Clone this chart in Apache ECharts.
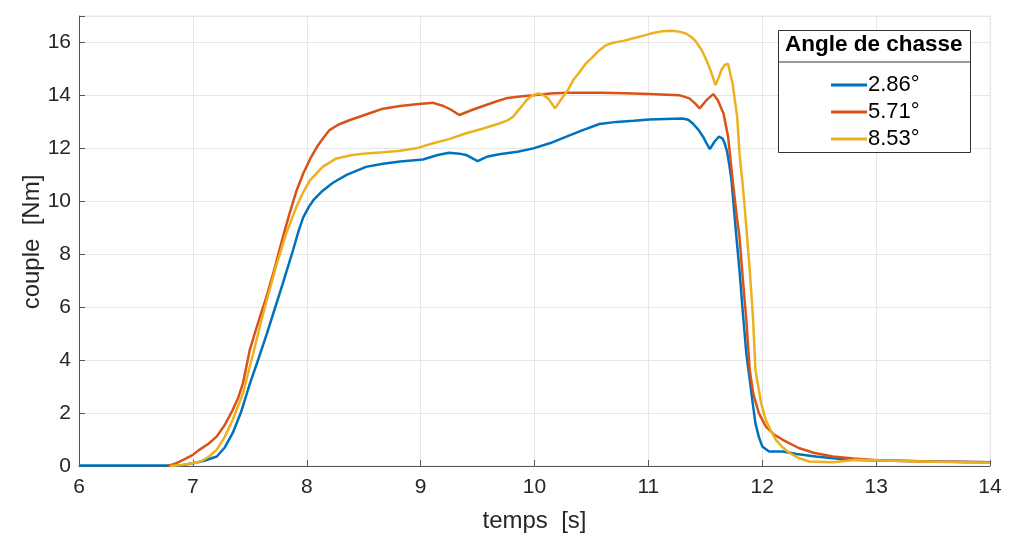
<!DOCTYPE html>
<html>
<head>
<meta charset="utf-8">
<script src="https://cdn.jsdelivr.net/npm/echarts@6/dist/echarts.min.js"></script>
<style>html,body{margin:0;padding:0;background:#fff}#c{width:1024px;height:548px}</style>
</head>
<body>
<div id="c"></div>
<script>
var seriesNames = ['2.86°', '5.71°', '8.53°'];
var xTicks = [6, 7, 8, 9, 10, 11, 12, 13, 14];
var yTicks = [0, 2, 4, 6, 8, 10, 12, 14, 16];

var tBlue = [6.0,6.5,6.9,7.0,7.1,7.21,7.28,7.35,7.42,7.5,7.58,7.65,7.72,7.79,7.84,7.88,7.93,7.97,8.02,8.06,8.14,8.23,8.35,8.52,8.67,8.82,9.02,9.15,9.25,9.34,9.4,9.5,9.58,9.69,9.85,9.99,10.14,10.28,10.43,10.57,10.72,10.87,11.01,11.15,11.3,11.35,11.39,11.44,11.48,11.51,11.54,11.58,11.62,11.65,11.67,11.69,11.71,11.73,11.74,11.77,11.8,11.83,11.86,11.89,11.92,11.94,11.97,12.0,12.06,12.18,12.3,12.47,12.6,12.76,13.05,13.5,14.0];
var vBlue = [0.02,0.02,0.03,0.1,0.2,0.36,0.7,1.25,2.0,3.1,4.1,5.0,5.95,6.9,7.6,8.16,8.9,9.4,9.8,10.05,10.4,10.7,11.0,11.3,11.42,11.5,11.58,11.75,11.83,11.8,11.75,11.52,11.68,11.78,11.87,12.0,12.2,12.44,12.7,12.92,13.0,13.04,13.09,13.11,13.13,13.08,12.94,12.7,12.44,12.2,11.97,12.25,12.44,12.38,12.19,11.9,11.4,10.8,10.3,8.8,7.4,5.77,4.26,3.26,2.25,1.62,1.1,0.74,0.55,0.55,0.45,0.36,0.3,0.24,0.21,0.17,0.14];

var tRed = [6.78,6.85,6.92,7.0,7.06,7.14,7.21,7.28,7.35,7.4,7.44,7.5,7.55,7.59,7.64,7.68,7.72,7.76,7.8,7.85,7.91,7.97,8.03,8.09,8.15,8.2,8.28,8.38,8.52,8.67,8.82,8.96,9.11,9.2,9.27,9.34,9.45,9.55,9.65,9.75,9.87,9.99,10.14,10.28,10.57,10.8,11.01,11.27,11.36,11.41,11.45,11.51,11.57,11.61,11.66,11.7,11.74,11.78,11.8,11.83,11.86,11.89,11.92,11.97,12.03,12.1,12.18,12.32,12.45,12.62,12.8,13.05,13.5,14.0];
var vRed = [0.0,0.1,0.24,0.42,0.62,0.85,1.12,1.55,2.12,2.6,3.13,4.39,5.1,5.65,6.3,6.9,7.5,8.16,8.8,9.55,10.4,11.06,11.6,12.06,12.42,12.69,12.9,13.07,13.28,13.5,13.6,13.67,13.72,13.6,13.45,13.26,13.45,13.6,13.75,13.89,13.96,14.01,14.07,14.1,14.1,14.08,14.05,14.01,13.89,13.7,13.51,13.82,14.05,13.82,13.32,12.44,10.8,9.3,8.66,7.03,5.52,3.63,2.75,2.0,1.5,1.2,0.99,0.68,0.5,0.36,0.28,0.21,0.17,0.14];

var tYellow = [6.8,6.92,7.06,7.14,7.21,7.28,7.35,7.44,7.53,7.59,7.65,7.73,7.82,7.91,7.97,8.03,8.14,8.26,8.4,8.52,8.67,8.82,8.96,9.11,9.25,9.4,9.55,9.69,9.76,9.81,9.87,9.93,9.98,10.04,10.08,10.12,10.15,10.18,10.21,10.25,10.3,10.34,10.4,10.45,10.51,10.57,10.63,10.69,10.78,10.86,10.95,11.04,11.12,11.21,11.28,11.33,11.38,11.42,11.47,11.51,11.55,11.59,11.62,11.64,11.67,11.7,11.72,11.74,11.76,11.78,11.8,11.83,11.86,11.89,11.92,11.94,11.99,12.03,12.08,12.12,12.18,12.24,12.32,12.41,12.62,12.82,13.05,13.5,14.0];
var vYellow = [0.0,0.05,0.15,0.35,0.62,1.1,1.75,2.75,4.26,5.3,6.28,7.53,8.79,9.8,10.35,10.8,11.3,11.62,11.75,11.81,11.85,11.91,12.0,12.19,12.35,12.57,12.75,12.94,13.05,13.19,13.5,13.82,14.0,14.08,14.0,13.89,13.7,13.51,13.7,13.95,14.25,14.58,14.9,15.2,15.45,15.71,15.9,15.99,16.06,16.15,16.25,16.36,16.42,16.44,16.4,16.34,16.2,16.02,15.7,15.33,14.9,14.39,14.7,14.95,15.15,15.2,14.8,14.45,13.8,13.19,11.81,10.55,9.04,7.41,5.52,3.63,2.38,1.75,1.3,0.99,0.7,0.49,0.3,0.17,0.14,0.24,0.21,0.16,0.12];

var colors = ['#0072BD', '#D95319', '#EDB120'];
function zip(t, v) { return t.map(function (x, i) { return [x, v[i]]; }); }
var datasets = [zip(tBlue, vBlue), zip(tRed, vRed), zip(tYellow, vYellow)];

var axisFont = "'Liberation Sans', Arial, sans-serif";
var legFont = "'Liberation Sans', Arial, sans-serif";

var chart = echarts.init(document.getElementById('c'), null, {renderer: 'canvas'});
chart.setOption({
  animation: false,
  backgroundColor: '#fff',
  color: colors,
  grid: {left: 79, right: 34, top: 16, bottom: 82, show: true, borderColor: '#ececec', borderWidth: 1},
  xAxis: {
    type: 'value', min: xTicks[0], max: xTicks[xTicks.length - 1], interval: 1,
    name: 'temps  [s]', nameLocation: 'middle', nameGap: 43,
    nameTextStyle: {fontFamily: axisFont, fontSize: 24, color: '#262626'},
    axisLine: {show: true, onZero: false, lineStyle: {color: '#555', width: 1}},
    axisTick: {show: true, inside: true, length: 6, lineStyle: {color: '#555'}},
    axisLabel: {fontFamily: axisFont, fontSize: 21, color: '#262626', margin: 11},
    splitLine: {show: true, lineStyle: {color: '#e6e6e6', width: 1}}
  },
  yAxis: {
    type: 'value', min: 0, max: 17, interval: 2,
    axisLine: {show: true, lineStyle: {color: '#555', width: 1}},
    axisTick: {show: true, inside: true, length: 6, lineStyle: {color: '#555'}},
    axisLabel: {fontFamily: axisFont, fontSize: 21, color: '#262626', margin: 8,
      formatter: function (v) { return yTicks.indexOf(v) >= 0 ? String(v) : ''; }},
    splitLine: {show: true, lineStyle: {color: '#e6e6e6', width: 1}}
  },
  graphic: [
    {type: 'text', x: 32, y: 242, rotation: Math.PI / 2, z: 6,
     style: {text: 'couple  [Nm]', fontFamily: axisFont, fontSize: 24, fill: '#262626',
             align: 'center', verticalAlign: 'middle'}},
    {type: 'rect', left: 778, top: 30, z: 5,
     shape: {width: 192, height: 122}, style: {fill: '#fff', stroke: '#333', lineWidth: 1}},
    {type: 'line', z: 6, shape: {x1: 778, y1: 62, x2: 970, y2: 62}, style: {stroke: '#333', lineWidth: 1}},
    {type: 'text', z: 6, left: 785, top: 33,
     style: {text: 'Angle de chasse', fontFamily: legFont, fontWeight: 'bold', fontSize: 22.5, fill: '#000'}}
  ],
  legend: {
    orient: 'vertical', left: 826, top: 69, z: 10,
    itemWidth: 36, itemHeight: 3, itemGap: 5, icon: 'rect',
    textStyle: {fontFamily: legFont, fontSize: 22, color: '#000', lineHeight: 22, padding: [0, 0, 0, -4]},
    data: seriesNames
  },
  series: seriesNames.map(function (n, i) {
    return {
      name: n, type: 'line', data: datasets[i], showSymbol: false, symbol: 'none',
      lineStyle: {width: 2.5, color: colors[i]}, itemStyle: {color: colors[i]}, z: 2
    };
  })
});
</script>
</body>
</html>
